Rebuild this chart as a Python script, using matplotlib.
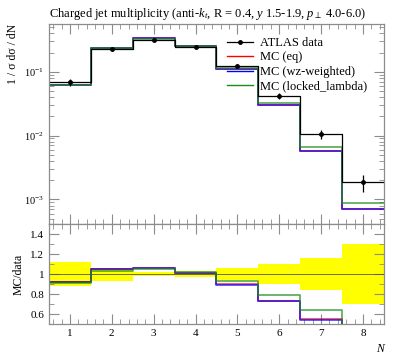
import matplotlib
matplotlib.use("Agg")
import matplotlib.pyplot as plt
import numpy as np
from matplotlib.ticker import MultipleLocator, LogLocator, NullFormatter

# bin edges and data
edges = np.arange(0.5, 9.0, 1.0)
centers = np.arange(1, 9)
data = [0.0683, 0.2245, 0.314, 0.2465, 0.124, 0.0416, 0.01045, 0.00186]
data_relerr = [0.12, 0.065, 0.02, 0.03, 0.06, 0.10, 0.16, 0.30]

# MC / data ratios
ratio_eq = [0.92, 1.047, 1.065, 1.013, 0.897, 0.735, 0.547, 0.383]
ratio_wz = [0.92, 1.047, 1.06, 1.013, 0.887, 0.73, 0.54, 0.38]
ratio_locked = [0.915, 1.033, 1.047, 1.02, 0.933, 0.787, 0.64, 0.476]

series = [
    ("MC (eq)", ratio_eq, "red"),
    ("MC (wz-weighted)", ratio_wz, "blue"),
    ("MC (locked_lambda)", ratio_locked, "#1a8c1a"),
]

plt.rcParams["font.family"] = ["Liberation Serif", "DejaVu Serif"]
plt.rcParams["mathtext.fontset"] = "custom"
plt.rcParams["mathtext.rm"] = "DejaVu Sans"
plt.rcParams["mathtext.it"] = "Liberation Serif:italic"
plt.rcParams["mathtext.sf"] = "DejaVu Sans"
AXC = "#8c8c8c"


def stepvals(v):
    v = np.asarray(v, dtype=float)
    return np.append(v, v[-1])


def style(ax):
    for s in ax.spines.values():
        s.set_color(AXC)
        s.set_linewidth(0.9)
    ax.tick_params(which="both", direction="in", top=True, right=True, color=AXC,
                   labelsize=8)
    ax.tick_params(which="major", length=7, width=0.8)
    ax.tick_params(which="minor", length=3.5, width=0.6)
    ax.set_xlim(0.5, 8.5)
    ax.xaxis.set_major_locator(MultipleLocator(1))
    ax.xaxis.set_minor_locator(MultipleLocator(0.2))


fig = plt.figure(figsize=(3.97, 3.58), dpi=100)
ax = fig.add_axes([0.1234, 0.374, 0.8436, 0.559])
rax = fig.add_axes([0.1234, 0.095, 0.8436, 0.279])
style(ax)
style(rax)

data_arr = np.array(data)
err_arr = data_arr * np.array(data_relerr)

for label, r, col in series:
    mc = data_arr * np.array(r)
    ax.step(edges, stepvals(mc), where="post", color=col, lw=1.2, alpha=0.75)

ax.step(edges, stepvals(data), where="post", color="black", lw=0.9)
ax.errorbar(centers, data, yerr=err_arr, fmt="o", color="black", ms=2.5,
            elinewidth=0.9, capsize=0)

# legend handles
ax.plot([], [], color="black", lw=0.9, marker="o", ms=2.5, label="ATLAS data")
for label, r, col in series:
    ax.plot([], [], color=col, lw=1.0, label=label)
handles, labels = ax.get_legend_handles_labels()
ax.legend(handles, labels, loc="upper left", bbox_to_anchor=(0.531, 0.935),
          frameon=False, fontsize=9, handlelength=2.1, handletextpad=0.55,
          labelspacing=0.2, borderaxespad=0.0, borderpad=0.0)

ax.set_yscale("log")
ax.set_ylim(4.1e-4, 0.56)
ax.yaxis.set_major_locator(LogLocator(base=10))
ax.yaxis.set_minor_locator(LogLocator(base=10, subs=np.arange(2, 10)))
ax.yaxis.set_minor_formatter(NullFormatter())
ax.tick_params(axis="x", labelbottom=False)
ax.tick_params(axis="y", labelsize=7.5)
ax.set_ylabel("1 / σ dσ / dN", loc="top", fontsize=8.5)
ax.set_title(r"Charged jet multiplicity (anti-$k_t$, R = 0.4, $y$ 1.5-1.9, $p_\perp$ 4.0-6.0)",
             loc="left", fontsize=9, pad=5)

# ratio panel
lo = 1 - np.array(data_relerr)
hi = 1 + np.array(data_relerr)
rax.fill_between(edges, stepvals(lo), stepvals(hi), step="post", color="#ffff00",
                 lw=0)
rax.axhline(1.0, color="#555555", lw=0.6)
for label, r, col in series:
    rax.step(edges, stepvals(r), where="post", color=col, lw=1.2, alpha=0.75)
rax.set_ylim(0.5, 1.5)
rax.yaxis.set_minor_locator(MultipleLocator(0.1))
rax.set_yticks([0.6, 0.8, 1.0, 1.2, 1.4])
rax.set_yticklabels(["0.6", "0.8", "1", "1.2", "1.4"])
rax.set_ylabel("MC/data", fontsize=8.5)
rax.set_xlabel("N", loc="right", fontsize=8.5, style="italic")

fig.savefig("out.png", dpi=100)
